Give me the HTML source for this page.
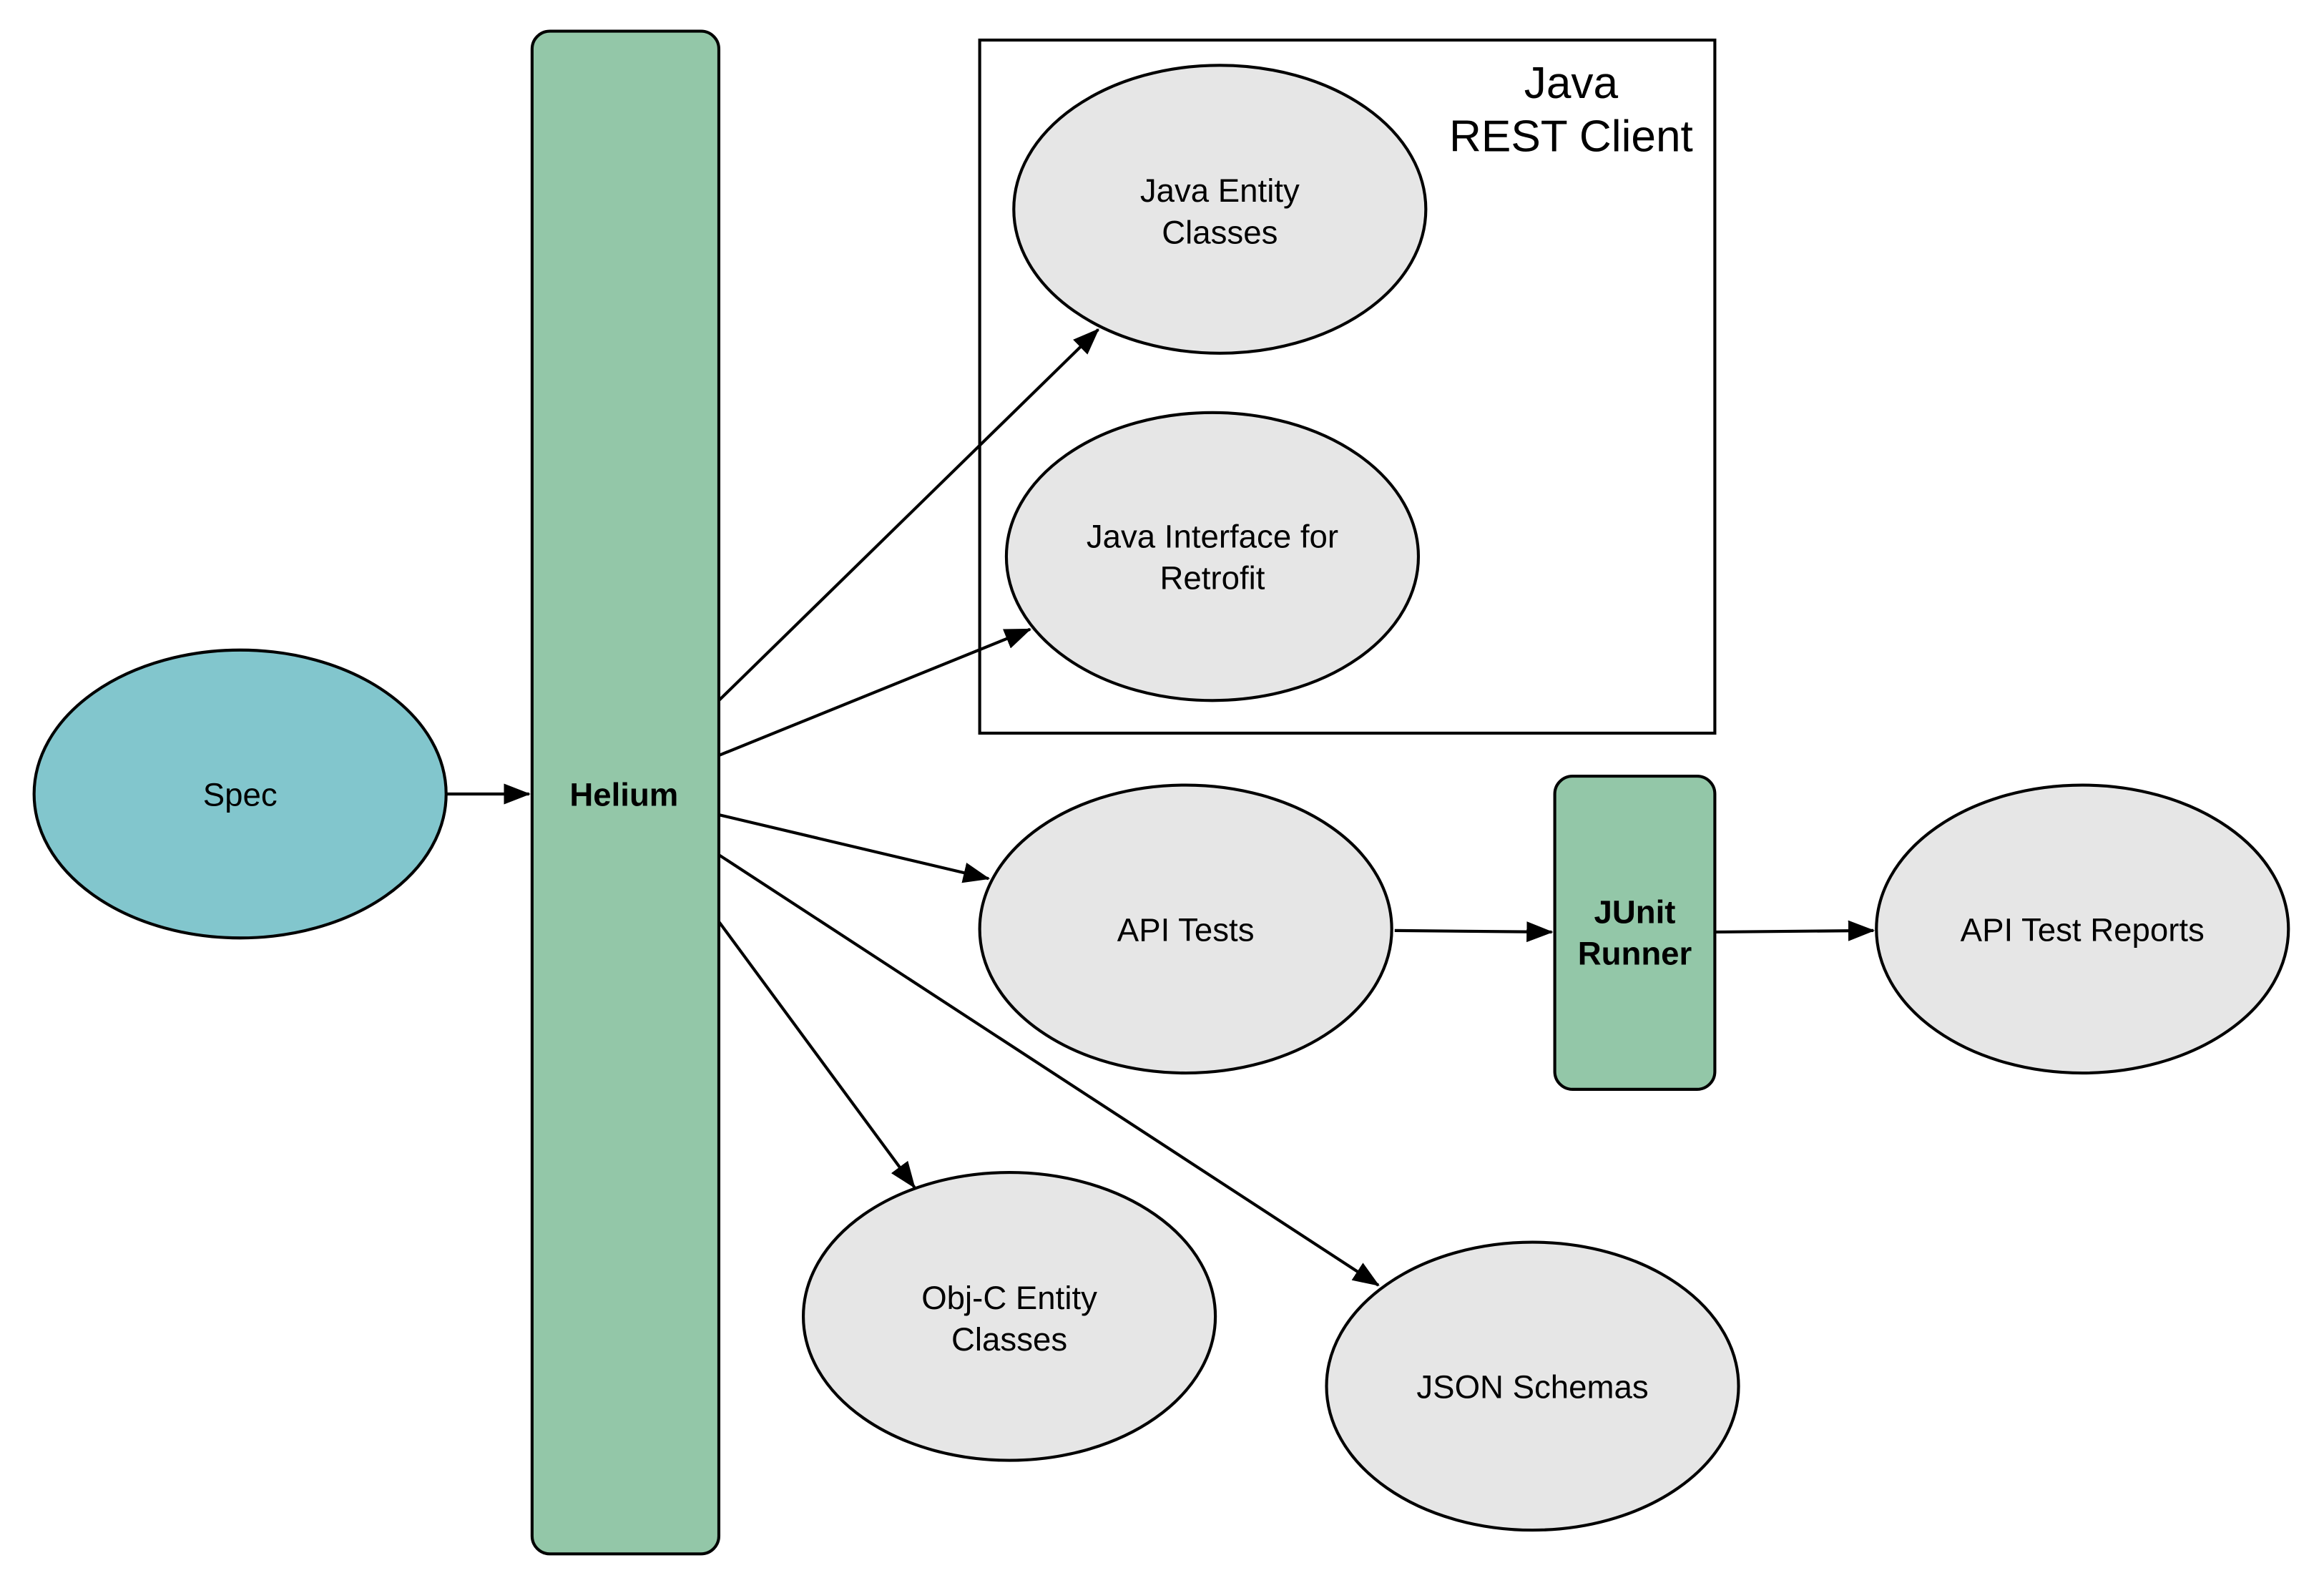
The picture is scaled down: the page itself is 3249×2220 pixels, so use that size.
<!DOCTYPE html>
<html><head><meta charset="utf-8"><style>html,body{margin:0;padding:0;background:#fff}svg{display:block}</style></head>
<body>
<svg width="3249" height="2220" viewBox="0 0 1568 1070" preserveAspectRatio="none" xmlns="http://www.w3.org/2000/svg" font-family="'Liberation Sans', Arial, sans-serif" font-size="22" text-anchor="middle">
<defs><marker id="a" markerWidth="18" markerHeight="14" refX="17" refY="7" orient="auto" markerUnits="userSpaceOnUse" viewBox="0 0 18 14"><path d="M0,0 L18,7 L0,14 z" fill="#000"/></marker></defs>
<g stroke="#000" stroke-width="2">
<rect x="661" y="27" width="496" height="467" fill="#fff"/>
<rect x="359" y="21" width="126" height="1026" rx="12" fill="#93c7a8"/>
<rect x="1049" y="523" width="108" height="211" rx="12" fill="#93c7a8"/>
<ellipse cx="162" cy="535" rx="139" ry="97" fill="#82c6cd"/>
<ellipse cx="823" cy="141" rx="139" ry="97" fill="#e6e6e6"/>
<ellipse cx="818" cy="375" rx="139" ry="97" fill="#e6e6e6"/>
<ellipse cx="800" cy="626" rx="139" ry="97" fill="#e6e6e6"/>
<ellipse cx="1405" cy="626" rx="139" ry="97" fill="#e6e6e6"/>
<ellipse cx="681" cy="887" rx="139" ry="97" fill="#e6e6e6"/>
<ellipse cx="1034" cy="934" rx="139" ry="97" fill="#e6e6e6"/>
<g fill="none" marker-end="url(#a)">
<line x1="301" y1="535" x2="357" y2="535"/>
<line x1="485" y1="472" x2="741" y2="222"/>
<line x1="485" y1="509" x2="695" y2="424"/>
<line x1="485" y1="549" x2="667" y2="592"/>
<line x1="485" y1="576" x2="930" y2="866"/>
<line x1="485" y1="621" x2="617" y2="800"/>
<line x1="941" y1="627" x2="1047" y2="628"/>
<line x1="1157" y1="628" x2="1264" y2="627"/>
</g></g>
<text x="162" y="543">Spec</text>
<text x="421" y="543" font-weight="bold">Helium</text>
<text x="1060" y="66" font-size="30">Java</text>
<text x="1060" y="102" font-size="30">REST Client</text>
<text x="823" y="136">Java Entity</text><text x="823" y="164">Classes</text>
<text x="818" y="369">Java Interface for</text><text x="818" y="397">Retrofit</text>
<text x="800" y="634">API Tests</text>
<text x="1103" y="622" font-weight="bold">JUnit</text><text x="1103" y="650" font-weight="bold">Runner</text>
<text x="1405" y="634">API Test Reports</text>
<text x="681" y="882">Obj-C Entity</text><text x="681" y="910">Classes</text>
<text x="1034" y="942">JSON Schemas</text>
</svg>
</body></html>
